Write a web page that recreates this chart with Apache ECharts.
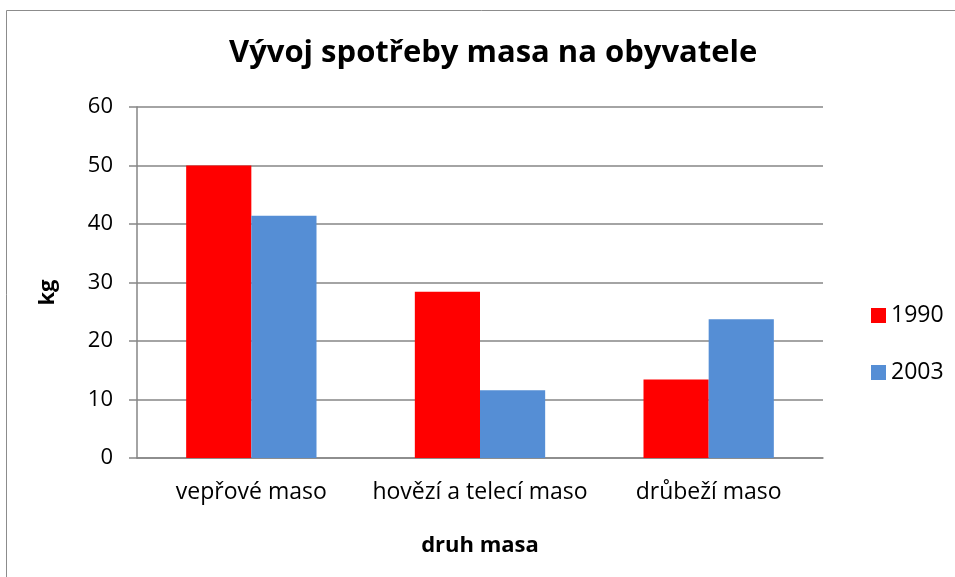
<!DOCTYPE html>
<html>
<head>
<meta charset="utf-8">
<script src="https://cdn.jsdelivr.net/npm/echarts@6/dist/echarts.min.js"></script>
<style>
  html, body { margin: 0; padding: 0; background: #fff; }
  #chart { width: 955px; height: 577px; }
</style>
</head>
<body>
<div id="chart"></div>
<script>
// data
const categories = ['vepřové maso', 'hovězí a telecí maso', 'drůbeží maso']
const values1990 = [50, 28.4, 13.4]
const values2003 = [41.4, 11.6, 23.7]
const seriesNames = ['1990', '2003']

const font = '"Open Sans", "Liberation Sans", Arial, sans-serif'
const gridColor = '#868686'

const chart = echarts.init(document.getElementById('chart'))

const option = {
  animation: false,
  backgroundColor: '#fff',
  textStyle: { fontFamily: font, color: '#000' },
  title: {
    text: 'Vývoj spotřeby masa na obyvatele',
    left: 224,
    top: 33,
    textStyle: { fontFamily: font, fontSize: 31, fontWeight: 'bold', color: '#000' },
  },
  graphic: [
    {
      type: 'rect',
      left: 4,
      top: 8,
      shape: { width: 1000, height: 620 },
      style: { fill: 'none', stroke: '#8c8c8c', lineWidth: 1 },
      silent: true,
    },
  ],
  legend: {
    orient: 'vertical',
    left: 866,
    top: 299,
    itemWidth: 15,
    itemHeight: 15,
    itemGap: 34,
    icon: 'rect',
    textStyle: { fontFamily: font, fontSize: 23, color: '#000', lineHeight: 15 },
    data: seriesNames,
  },
  grid: {
    left: 137,
    right: 132,
    top: 107,
    bottom: 119,
    containLabel: false,
  },
  xAxis: {
    type: 'category',
    data: categories,
    name: 'druh masa',
    nameLocation: 'middle',
    nameGap: 77,
    nameTextStyle: { fontFamily: font, fontSize: 22, fontWeight: 'bold', color: '#000' },
    axisLine: { lineStyle: { color: gridColor, width: 1.5 } },
    axisTick: { show: false },
    axisLabel: { fontFamily: font, fontSize: 23, color: '#000', margin: 23, interval: 0 },
  },
  yAxis: {
    type: 'value',
    min: 0,
    max: 60,
    interval: 10,
    name: 'kg',
    nameLocation: 'middle',
    nameGap: 78,
    nameRotate: 90,
    nameTextStyle: { fontFamily: font, fontSize: 22, fontWeight: 'bold', color: '#000', padding: [0, 20, 0, 0] },
    axisLine: { show: true, lineStyle: { color: gridColor, width: 1.5 } },
    axisTick: { show: true, length: 8, lineStyle: { color: gridColor, width: 1.5 } },
    axisLabel: { fontFamily: font, fontSize: 22, color: '#000', margin: 24 },
    splitLine: { lineStyle: { color: gridColor, width: 1.5 } },
  },
  series: [
    {
      name: seriesNames[0],
      type: 'bar',
      data: values1990,
      itemStyle: { color: '#ff0000' },
      barGap: '0%',
      barCategoryGap: '43%',
    },
    {
      name: seriesNames[1],
      type: 'bar',
      data: values2003,
      itemStyle: { color: '#558ed5' },
      barGap: '0%',
      barCategoryGap: '43%',
    },
  ],
}

chart.setOption(option)
</script>
</body>
</html>
